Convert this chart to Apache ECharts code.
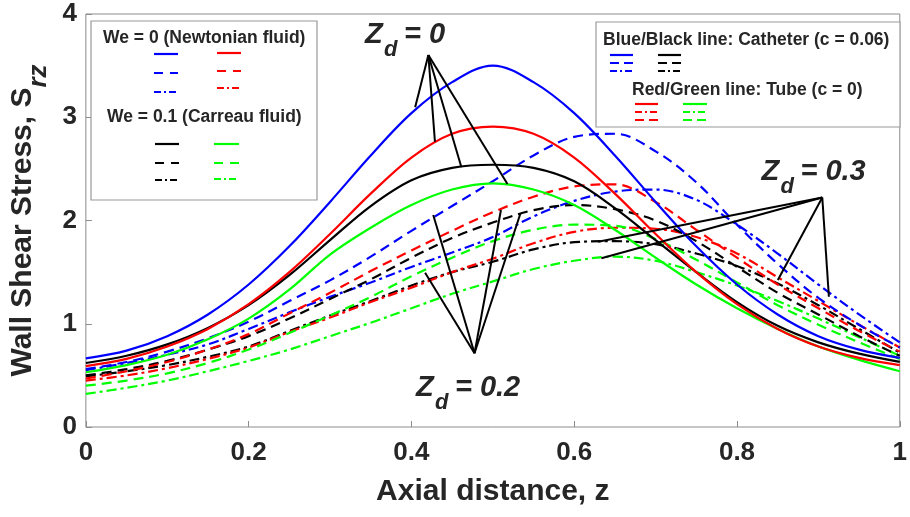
<!DOCTYPE html>
<html><head><meta charset="utf-8">
<script src="https://cdn.jsdelivr.net/npm/echarts/dist/echarts.min.js"></script>
<style>html,body{margin:0;padding:0;background:#fff}#c{width:910px;height:517px}</style>
</head><body><div id="c"></div>
<script>
// ---- data ----
const xs = [0,0.05,0.1,0.15,0.2,0.25,0.3,0.35,0.4,0.45,0.5,0.55,0.6,0.65,0.7,0.75,0.8,0.85,0.9,0.95,1];
// Zd = 0 (solid)
const blueSolid  = [0.665,0.74,0.88,1.09,1.38,1.75,2.18,2.63,3.04,3.34,3.50,3.34,3.04,2.63,2.18,1.75,1.38,1.09,0.88,0.75,0.67];
const redSolid   = [0.59,0.66,0.78,0.95,1.19,1.50,1.87,2.26,2.61,2.84,2.91,2.84,2.61,2.26,1.87,1.50,1.19,0.95,0.78,0.67,0.60];
const blackSolid = [0.62,0.69,0.80,0.96,1.18,1.47,1.81,2.14,2.39,2.51,2.54,2.51,2.38,2.12,1.81,1.50,1.21,0.98,0.82,0.71,0.63];
const greenSolid = [0.53,0.60,0.70,0.85,1.05,1.33,1.67,1.93,2.15,2.30,2.36,2.30,2.15,1.91,1.64,1.38,1.15,0.95,0.78,0.65,0.54];
// Zd = 0.2 (dashed)
const blueDash  = [0.56,0.63,0.73,0.86,1.02,1.22,1.42,1.65,1.90,2.14,2.38,2.63,2.81,2.84,2.67,2.37,1.96,1.58,1.25,0.99,0.77];
const redDash   = [0.47,0.54,0.63,0.75,0.90,1.10,1.30,1.51,1.71,1.90,2.08,2.23,2.33,2.35,2.18,1.91,1.64,1.38,1.15,0.93,0.73];
const blackDash = [0.50,0.56,0.64,0.75,0.88,1.05,1.24,1.43,1.64,1.83,1.98,2.10,2.15,2.11,2.00,1.80,1.55,1.30,1.09,0.88,0.69];
const greenDash = [0.40,0.45,0.52,0.62,0.75,0.91,1.08,1.26,1.46,1.64,1.80,1.91,1.96,1.95,1.82,1.62,1.40,1.18,0.99,0.82,0.66];
// Zd = 0.3 (dash-dot)
const blueDD  = [0.55,0.62,0.70,0.80,0.95,1.11,1.26,1.40,1.55,1.69,1.84,2.04,2.19,2.28,2.30,2.20,1.96,1.68,1.38,1.09,0.82];
const redDD   = [0.45,0.50,0.57,0.66,0.77,0.92,1.06,1.21,1.35,1.50,1.63,1.78,1.89,1.93,1.92,1.84,1.68,1.45,1.22,0.99,0.77];
const blackDD = [0.49,0.54,0.60,0.68,0.78,0.93,1.08,1.22,1.37,1.50,1.60,1.72,1.79,1.80,1.77,1.68,1.56,1.39,1.18,0.95,0.72];
const greenDD = [0.32,0.38,0.45,0.54,0.64,0.75,0.88,1.01,1.15,1.29,1.41,1.53,1.61,1.65,1.61,1.50,1.37,1.22,1.05,0.87,0.69];

const xTicks = [0,0.2,0.4,0.6,0.8,1];
const yTicks = [0,1,2,3,4];

// annotation pointers (data coordinates): apex + end points
const ptrZ0  = {apex:[0.4208,3.603], ends:[[0.4046,3.096],[0.4289,2.763],[0.4614,2.515],[0.518,2.353]]};
const ptrZ02 = {apex:[0.4775,0.714], ends:[[0.4168,1.494],[0.4268,2.053],[0.510,2.102],[0.534,2.070]]};
const ptrZ03 = {apex:[0.9048,2.223], ends:[[0.6294,1.795],[0.6334,1.634],[0.8502,1.424],[0.9129,1.262]]};
const labelAnchors = [
  {val:'0',   at:[0.343,3.80]},
  {val:'0.2', at:[0.4055,0.375]},
  {val:'0.3', at:[0.830,2.47]}
];

// ---- styles ----
const BLUE='#0000ff', RED='#ff0000', BLACK='#000000', GREEN='#00ff00';
const SOLID='solid', DASH=[10,6], DD=[10,4,3,4];
const FONT='"Liberation Sans", Arial, sans-serif';
const TXT='#262626';

const curves = [
  {d:greenDD,c:GREEN,t:DD},{d:blackDD,c:BLACK,t:DD},{d:redDD,c:RED,t:DD},{d:blueDD,c:BLUE,t:DD},
  {d:greenDash,c:GREEN,t:DASH},{d:blackDash,c:BLACK,t:DASH},{d:redDash,c:RED,t:DASH},{d:blueDash,c:BLUE,t:DASH},
  {d:greenSolid,c:GREEN,t:SOLID},{d:blackSolid,c:BLACK,t:SOLID},{d:redSolid,c:RED,t:SOLID},{d:blueSolid,c:BLUE,t:SOLID}
];

const series = curves.map(cv => ({
  type:'line', data: xs.map((x,i)=>[x, cv.d[i]]), showSymbol:false, smooth:0.35,
  lineStyle:{color:cv.c, width:2.2, type:cv.t}, itemStyle:{color:cv.c}, silent:true, z:2
}));

function ptrLines(p){ return p.ends.map(e => [{coord:p.apex},{coord:e}]); }
series.push({
  type:'line', data:[], silent:true, z:5,
  markLine:{ silent:true, symbol:['none','none'], label:{show:false},
    lineStyle:{color:'#000', width:2, type:'solid'},
    data: [].concat(ptrLines(ptrZ0), ptrLines(ptrZ02), ptrLines(ptrZ03)) }
});

const chart = echarts.init(document.getElementById('c'), null, {renderer:'canvas'});
chart.setOption({
  animation:false,
  backgroundColor:'#fff',
  grid:{left:82, top:14, width:823, height:413, show:true, borderColor:'#8c8c8c', borderWidth:1, backgroundColor:'transparent'},
  xAxis:{type:'value', min:0, max:1, interval:0.2,
    axisLine:{show:false}, splitLine:{show:false},
    axisTick:{show:true, inside:true, length:6, lineStyle:{color:'#8c8c8c'}},
    axisLabel:{fontSize:26, fontWeight:'bold', fontFamily:FONT, color:TXT, margin:13,
      formatter:v => { const t = xTicks.find(k=>Math.abs(k-v)<1e-9); return t===undefined?'':String(t); }},
    name:'Axial distance, z', nameLocation:'middle', nameGap:50,
    nameTextStyle:{fontSize:30, fontWeight:'bold', fontFamily:FONT, color:TXT}},
  yAxis:{type:'value', min:0, max:4, interval:1,
    axisLine:{show:false}, splitLine:{show:false},
    axisTick:{show:true, inside:true, length:6, lineStyle:{color:'#8c8c8c'}},
    axisLabel:{fontSize:26, fontWeight:'bold', fontFamily:FONT, color:TXT, margin:9,
      formatter:v => { const t = yTicks.find(k=>Math.abs(k-v)<1e-9); return t===undefined?'':String(t); }},
    name:'{a|Wall Shear Stress, S}{b|rz}', nameLocation:'middle', nameRotate:90, nameGap:28,
    nameTextStyle:{rich:{
      a:{fontSize:30, fontWeight:'bold', fontFamily:FONT, color:TXT},
      b:{fontSize:26, fontWeight:'bold', fontStyle:'italic', fontFamily:FONT, color:TXT, padding:[31,0,0,0]}
    }}},
  series: series
});

// ---- legends & annotation texts (graphic) ----
const g = [];
function hl(x1,x2,y,color,dash){ g.push({type:'line', z:20, silent:true, shape:{x1:x1,y1:y,x2:x2,y2:y}, style:{stroke:color, lineWidth:2.2, lineDash: dash===SOLID?null:dash}}); }
function tx(x,y,text,font,extra){ g.push(Object.assign({type:'text', z:21, silent:true, x:x, y:y, style:{text:text, font:font, fill:TXT, align:'left', verticalAlign:'middle'}}, extra||{})); }
function box(x,y,w,h){ g.push({type:'rect', z:19, silent:true, shape:{x:x,y:y,width:w,height:h}, style:{fill:'#fff', stroke:'#9a9a9a', lineWidth:1.2}}); }

const LF = 'bold 17.5px '+FONT;
// legend 1
box(91,21,226,179);
tx(103,38,'We = 0 (Newtonian fluid)',LF);
hl(154,178,54,BLUE,SOLID); hl(154,178,73,BLUE,[9,7]); hl(154,178,92,BLUE,[7,3,2,3]);
hl(217,241,53,RED,SOLID);  hl(217,241,71,RED,[9,7]);  hl(217,241,88,RED,[7,3,2,3]);
tx(107,117,'We = 0.1 (Carreau fluid)',LF);
hl(155,179,144,BLACK,SOLID); hl(155,179,163,BLACK,[9,7]); hl(155,179,180,BLACK,[7,3,2,3]);
hl(214,239,144,GREEN,SOLID); hl(214,239,163,GREEN,[9,7]); hl(214,239,179,GREEN,[7,3,2,3]);
// legend 2
box(596,22,304,105);
tx(603,40,'Blue/Black line: Catheter (c = 0.06)',LF);
hl(610,633,55,BLUE,SOLID); hl(610,633,63,BLUE,[9,5]); hl(610,633,71,BLUE,[7,3,2,3]);
hl(658,681,55,BLACK,SOLID); hl(658,681,63,BLACK,[9,5]); hl(658,681,71,BLACK,[7,3,2,3]);
tx(632,90,'Red/Green line: Tube (c = 0)',LF);
hl(635,658,104,RED,SOLID); hl(635,658,112,RED,[7,3,2,3]); hl(635,658,120,RED,[9,5]);
hl(683,707,104,GREEN,SOLID); hl(683,707,112,GREEN,[7,3,2,3]); hl(683,707,120,GREEN,[9,5]);

// Z_d labels
const ZF = 'italic bold 29px '+FONT, DF = 'italic bold 22px '+FONT;
labelAnchors.forEach(a => {
  const p = chart.convertToPixel({gridIndex:0}, a.at);
  tx(p[0], p[1], 'Z', ZF);
  tx(p[0]+19, p[1]+15, 'd', DF);
  tx(p[0]+39, p[1], '= '+a.val, ZF);
});

chart.setOption({graphic:g});
</script>
</body></html>
